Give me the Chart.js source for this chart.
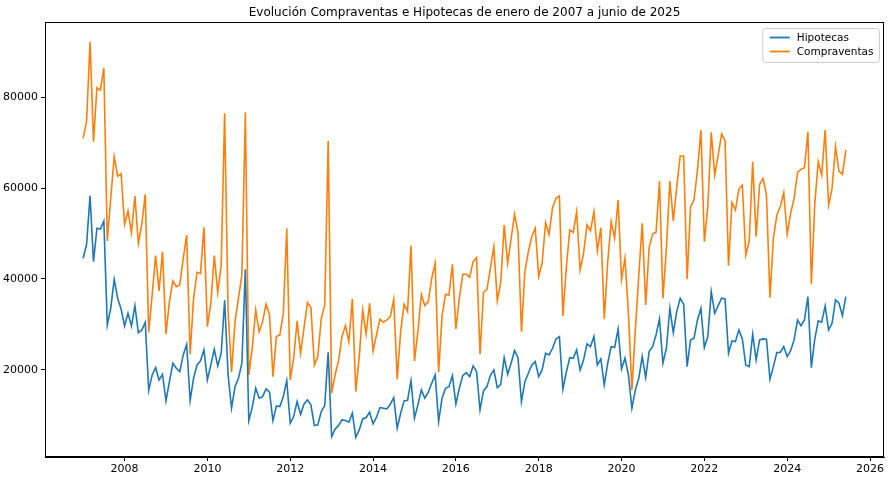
<!DOCTYPE html>
<html>
<head>
<meta charset="utf-8">
<script src="https://cdn.jsdelivr.net/npm/chart.js@4/dist/chart.umd.min.js"></script>
<style>
html,body{margin:0;padding:0;background:#fff;}
#c{display:block;}
</style>
</head>
<body>
<canvas id="c" width="890" height="482"></canvas>
<script>
const titleText = 'Evolución Compraventas e Hipotecas de enero de 2007 a junio de 2025';
const startYear = 2007;
const seriesNames = ['Hipotecas', 'Compraventas'];
const seriesColors = ['#1f77b4', '#ff7f0e'];
const xTickYears = [2008, 2010, 2012, 2014, 2016, 2018, 2020, 2022, 2024, 2026];
const yTickValues = [20000, 40000, 60000, 80000];

const hipotecas = [
44550,47630,58320,43810,51150,51000,52750,29890,33560,39930,35760,33410,
29670,32460,29670,34140,28200,28790,30480,15500,18900,20510,17800,19050,
13190,17430,21470,20370,19630,23300,25650,13250,18170,21100,21980,24400,
17800,21100,24550,20880,23670,35300,18900,11580,16330,18170,21470,42130,
8860,11800,15980,13780,14130,15830,15100,8860,12090,11940,14130,17650,
8280,9740,13040,10260,12460,13410,12310,7760,7910,10840,12150,23890,
5340,6970,7800,9010,8860,8500,10480,5200,6810,9230,9530,10700,
8130,9600,11720,11580,11430,12460,13910,7190,10480,13190,13300,17650,
9380,12310,15610,13780,15100,17080,18900,8640,13780,15980,16330,18750,
12530,15980,18750,19410,18530,20880,19630,11210,15390,16330,18750,20000,
16110,16850,22710,19050,21470,24250,22710,13040,17430,19270,21100,21830,
18530,20000,23670,23300,24770,26820,27330,15760,19490,22710,22570,24400,
20000,22200,25720,25130,27330,21100,22420,16700,21470,25130,24910,28950,
20220,22570,18900,11580,15610,18170,22930,18310,24030,25130,27700,31210,
21470,24770,33560,28200,32820,35760,34440,20730,26600,26960,30990,33560,
24910,27330,37220,32460,34140,35760,35610,23670,26380,26230,28790,26820,
21100,20730,27840,22200,26600,26820,26750,17950,20730,23810,23890,25130,
22930,24250,26600,30990,29740,30990,36110,20510,26820,30770,30480,34070,
28790,30260,35390,34660,31940,36110
];

const compraventas = [
70930,74700,92170,70190,82060,81550,86450,48360,57740,66890,62640,63150,
52030,54950,50180,58250,47850,52090,58620,28280,36490,45130,37370,46010,
27920,35020,39560,38320,38690,44550,49670,23450,35760,41470,41180,51370,
29520,34660,45130,37000,43080,76420,32820,19490,30620,35760,40880,76640,
18900,24770,33190,28420,30620,34440,32090,18530,27330,27700,32460,51150,
17800,22570,30770,23670,29300,34800,33700,21100,22930,31360,34290,70340,
14880,18900,22000,27330,29740,26230,35610,15240,22930,33190,27920,34660,
24180,27700,31140,30480,30990,31720,35540,17950,28420,34440,32820,47330,
21980,28420,36640,34140,35020,40150,43450,19490,31940,36640,36490,43230,
29010,35760,41030,41030,40370,43810,44690,23450,37080,37740,42350,47110,
35240,39270,51870,43450,48800,54220,50260,28420,41760,46010,49300,51150,
40510,43590,52380,49830,55680,57740,58250,31870,42490,50770,50260,54800,
41980,45650,51870,50550,54800,46160,51280,31210,43810,52600,48950,57370,
39930,44550,32460,15610,28790,40880,52240,34290,46890,49900,50260,61540,
35760,46740,61540,52750,60290,67040,67040,39930,55900,57370,63960,72750,
48210,55900,72240,62860,67260,71870,70410,42900,56800,55170,59720,60660,
45280,48360,65790,49300,60810,62130,58470,35900,48950,54070,55900,58980,
49830,54440,57740,63450,64110,64480,72390,38830,56630,65790,62860,72750,
56270,59940,69090,63740,63010,68360
];

// month positions as fractional years (Jan 2007 = 2007.0)
const monthX = hipotecas.map((_, i) => startYear + i / 12);

function toPoints(vals) { return vals.map((v, i) => ({ x: monthX[i], y: v })); }

// matplotlib-like 5% margins
const xFirst = monthX[0], xLast = monthX[monthX.length - 1];
const xPad = (xLast - xFirst) * 0.05;
const allVals = hipotecas.concat(compraventas);
const yMinD = Math.min(...allVals), yMaxD = Math.max(...allVals);
const yPad = (yMaxD - yMinD) * 0.05;

const FONT = "'DejaVu Sans', sans-serif";

const framePlugin = {
  id: 'frame',
  afterDraw(chart) {
    const { ctx, chartArea: a } = chart;
    ctx.save();
    ctx.strokeStyle = '#000';
    ctx.lineWidth = 1;
    ctx.strokeRect(Math.round(a.left) + 0.5, Math.round(a.top) + 0.5,
                   Math.round(a.right - a.left) - 1, Math.round(a.bottom - a.top) - 1);
    // title centred over the axes
    ctx.fillStyle = '#000';
    ctx.font = '12px ' + FONT;
    ctx.textAlign = 'center';
    ctx.textBaseline = 'middle';
    ctx.fillText(titleText, (a.left + a.right) / 2, 12.5);
    ctx.restore();
  }
};

const legendPlugin = {
  id: 'innerLegend',
  afterDraw(chart) {
    const { ctx, chartArea: a } = chart;
    const ds = chart.data.datasets;
    ctx.save();
    ctx.font = '10.5px ' + FONT;
    let maxW = 0;
    ds.forEach(d => { maxW = Math.max(maxW, ctx.measureText(d.label).width); });
    const w = 34 + maxW + 6;
    const h = 34;
    const right = a.right - 4.5;
    const left = right - w;
    const top = a.top + 6.5;
    ctx.beginPath();
    if (ctx.roundRect) ctx.roundRect(left, top, w, h, 3); else ctx.rect(left, top, w, h);
    ctx.fillStyle = 'rgba(255,255,255,0.8)';
    ctx.fill();
    ctx.strokeStyle = '#cccccc';
    ctx.lineWidth = 1;
    ctx.stroke();
    ds.forEach((d, i) => {
      const yy = top + 9 + i * 14;
      ctx.beginPath();
      ctx.moveTo(left + 7, yy);
      ctx.lineTo(left + 27, yy);
      ctx.strokeStyle = d.borderColor;
      ctx.lineWidth = 1.8;
      ctx.stroke();
      ctx.fillStyle = '#000';
      ctx.textBaseline = 'middle';
      ctx.textAlign = 'left';
      ctx.fillText(d.label, left + 34, yy + 0.5);
    });
    ctx.restore();
  }
};

new Chart(document.getElementById('c'), {
  type: 'line',
  data: {
    datasets: [
      { label: seriesNames[0], data: toPoints(hipotecas), borderColor: seriesColors[0],
        backgroundColor: seriesColors[0], borderWidth: 1.6, pointRadius: 0, tension: 0, fill: false },
      { label: seriesNames[1], data: toPoints(compraventas), borderColor: seriesColors[1],
        backgroundColor: seriesColors[1], borderWidth: 1.6, pointRadius: 0, tension: 0, fill: false }
    ]
  },
  options: {
    responsive: false,
    animation: false,
    devicePixelRatio: 1,
    layout: { padding: { left: 0, right: 6, top: 22, bottom: 0 } },
    plugins: {
      legend: { display: false },
      tooltip: { enabled: false },
      title: { display: false }
    },
    scales: {
      x: {
        type: 'linear',
        min: xFirst - xPad,
        max: xLast + xPad,
        afterBuildTicks(scale) { scale.ticks = xTickYears.map(v => ({ value: v })); },
        afterFit(scale) { scale.height = 25; },
        ticks: {
          color: '#000',
          font: { family: FONT, size: 11 },
          padding: 2,
          maxRotation: 0,
          autoSkip: false,
          callback: v => String(v)
        },
        grid: { drawOnChartArea: false, drawTicks: true, tickLength: 4, color: '#000', lineWidth: 1 },
        border: { display: true, color: '#000', width: 1 }
      },
      y: {
        type: 'linear',
        min: yMinD - yPad,
        max: yMaxD + yPad,
        afterBuildTicks(scale) { scale.ticks = yTickValues.map(v => ({ value: v })); },
        afterFit(scale) { scale.width = 45; },
        ticks: {
          color: '#000',
          font: { family: FONT, size: 11 },
          padding: 3,
          autoSkip: false,
          callback: v => String(v)
        },
        grid: { drawOnChartArea: false, drawTicks: true, tickLength: 4, color: '#000', lineWidth: 1 },
        border: { display: true, color: '#000', width: 1 }
      }
    }
  },
  plugins: [framePlugin, legendPlugin]
});
</script>
</body>
</html>
